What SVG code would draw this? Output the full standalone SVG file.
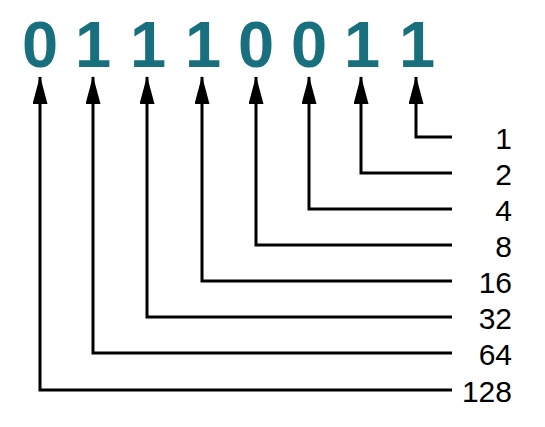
<svg xmlns="http://www.w3.org/2000/svg" width="545" height="427" viewBox="0 0 545 427">
<style>
.bit{font-family:"Liberation Sans",Arial,sans-serif;font-weight:bold;font-size:65px;fill:#18707f;text-anchor:middle}
.val{font-family:"Liberation Sans",Arial,sans-serif;font-size:30px;fill:#000;text-anchor:end}
.wire{fill:none;stroke:#000;stroke-width:3}
</style>
<defs>
<marker id="ah" markerUnits="userSpaceOnUse" viewBox="0 0 28 15" refX="27" refY="7.5" markerWidth="28" markerHeight="15" orient="auto">
<path d="M0,0 L28,7.5 L0,15 Z" fill="#000"/>
</marker>
</defs>
<g id="bits">
<g id="bit128"><text class="bit" x="40" y="67">0</text></g>
<g id="bit64"><text class="bit" x="93" y="67">1</text></g>
<g id="bit32"><text class="bit" x="148" y="67">1</text></g>
<g id="bit16"><text class="bit" x="203" y="67">1</text></g>
<g id="bit8"><text class="bit" x="256" y="67">0</text></g>
<g id="bit4"><text class="bit" x="309" y="67">0</text></g>
<g id="bit2"><text class="bit" x="362" y="67">1</text></g>
<g id="bit1"><text class="bit" x="417" y="67">1</text></g>
</g>
<g id="labels">
<g id="v1"><text class="val" x="512" y="149">1</text></g>
<g id="v2"><text class="val" x="512" y="185">2</text></g>
<g id="v4"><text class="val" x="512" y="221">4</text></g>
<g id="v8"><text class="val" x="512" y="257">8</text></g>
<g id="v16"><text class="val" x="512" y="293">16</text></g>
<g id="v32"><text class="val" x="512" y="329">32</text></g>
<g id="v64"><text class="val" x="512" y="365">64</text></g>
<g id="v128"><text class="val" x="512" y="402">128</text></g>
</g>
<g id="connectors">
<path class="wire" marker-end="url(#ah)" d="M452,137 H416 V77"/>
<path class="wire" marker-end="url(#ah)" d="M452,173 H361 V77"/>
<path class="wire" marker-end="url(#ah)" d="M452,209 H309 V77"/>
<path class="wire" marker-end="url(#ah)" d="M452,245 H256 V77"/>
<path class="wire" marker-end="url(#ah)" d="M452,281 H202 V77"/>
<path class="wire" marker-end="url(#ah)" d="M452,317 H147 V77"/>
<path class="wire" marker-end="url(#ah)" d="M452,353 H93 V77"/>
<path class="wire" marker-end="url(#ah)" d="M452,390 H40 V77"/>
</g>
</svg>
